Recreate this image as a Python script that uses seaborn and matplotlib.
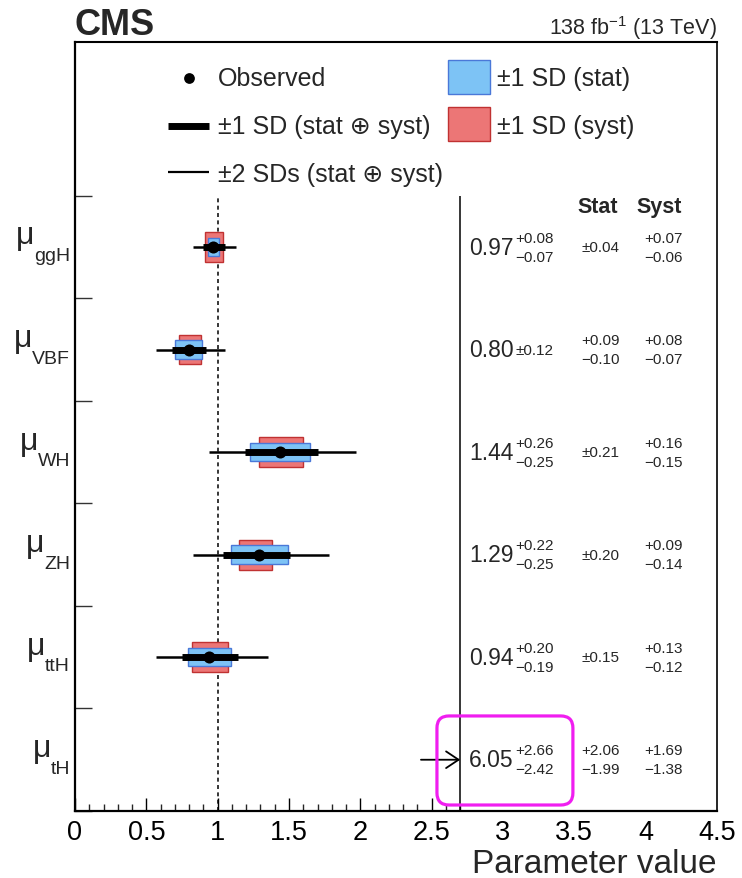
import numpy as np
import pandas as pd
import matplotlib
matplotlib.use("Agg")
import matplotlib.pyplot as plt
import seaborn as sns
from matplotlib.patches import Rectangle, FancyBboxPatch
from matplotlib.ticker import FixedLocator

# ---- measured signal strengths -------------------------------------------
processes = ["ggH", "VBF", "WH", "ZH", "ttH", "tH"]
mu_best   = [0.97, 0.80, 1.44, 1.29, 0.94, 6.05]
tot_up    = [0.08, 0.12, 0.26, 0.22, 0.20, 2.66]
tot_dn    = [0.07, 0.12, 0.25, 0.25, 0.19, 2.42]
stat_up   = [0.04, 0.09, 0.21, 0.20, 0.15, 2.06]
stat_dn   = [0.04, 0.10, 0.21, 0.20, 0.15, 1.99]
syst_up   = [0.07, 0.08, 0.16, 0.09, 0.13, 1.69]
syst_dn   = [0.06, 0.07, 0.15, 0.14, 0.12, 1.38]
two_sd_up = [0.16, 0.25, 0.53, 0.49, 0.41, np.nan]
two_sd_dn = [0.14, 0.23, 0.50, 0.46, 0.37, np.nan]

x_tick_vals   = [0, 0.5, 1, 1.5, 2, 2.5, 3, 3.5, 4, 4.5]
x_tick_labels = ["0", "0.5", "1", "1.5", "2", "2.5", "3", "3.5", "4", "4.5"]

X_CUT = 2.7          # plotting region ends here, text table to the right
BLUE, BLUE_EDGE = "#7dc3f5", "#4a78d8"
RED, RED_EDGE = "#ec7676", "#c03232"
FONTS = ["Liberation Sans", "DejaVu Sans"]

sns.set_theme(style="ticks")
plt.rcParams["font.family"] = FONTS
plt.rcParams["mathtext.fontset"] = "custom"
plt.rcParams["mathtext.rm"] = "Liberation Sans"
plt.rcParams["mathtext.it"] = "Liberation Sans:italic"
plt.rcParams["mathtext.bf"] = "Liberation Sans:bold"

n = len(processes)
df = pd.DataFrame({
    "proc": processes, "mu": mu_best,
    "tot_up": tot_up, "tot_dn": tot_dn,
    "stat_up": stat_up, "stat_dn": stat_dn,
    "syst_up": syst_up, "syst_dn": syst_dn,
    "two_up": two_sd_up, "two_dn": two_sd_dn,
})
df["y"] = (n - 0.5) - np.arange(n)
inside = df[df["mu"] <= X_CUT]
outside = df[df["mu"] > X_CUT]

fig = plt.figure(figsize=(7.42, 8.79), dpi=100)
ax = fig.add_axes([75 / 742, 1 - 812 / 879, (717 - 75) / 742, (812 - 43) / 879])
ax.set_xlim(0, 4.5)
ax.set_ylim(0, n + 1.5)

# reference lines
ax.vlines(1.0, 0, n, colors="black", linestyles=(0, (2.6, 2.2)), lw=1.1, zorder=1)
ax.vlines(X_CUT, 0, n, colors="black", lw=1.1, zorder=1)

# syst (red, taller) and stat (blue, shorter) boxes
ax.barh(inside["y"], inside["syst_up"] + inside["syst_dn"], left=inside["mu"] - inside["syst_dn"],
        height=0.29, color=RED, edgecolor=RED_EDGE, linewidth=1.0, zorder=2)
ax.barh(inside["y"], inside["stat_up"] + inside["stat_dn"], left=inside["mu"] - inside["stat_dn"],
        height=0.18, color=BLUE, edgecolor=BLUE_EDGE, linewidth=1.0, zorder=3)

# +-2 SD and +-1 SD total intervals
ax.hlines(inside["y"], inside["mu"] - inside["two_dn"], inside["mu"] + inside["two_up"],
          colors="black", lw=1.8, zorder=4)
lc = ax.hlines(inside["y"], inside["mu"] - inside["tot_dn"], inside["mu"] + inside["tot_up"],
               colors="black", lw=5, zorder=5)
lc.set_capstyle("butt")

sns.scatterplot(data=inside, x="mu", y="y", color="black", s=75, linewidth=0,
                zorder=6, ax=ax, legend=False)

# off-scale results: arrow pointing to the table
for _, r in outside.iterrows():
    ax.annotate("", xy=(X_CUT, r["y"]), xytext=(X_CUT - 0.275, r["y"]),
                arrowprops=dict(arrowstyle="->,head_length=0.6,head_width=0.4",
                                lw=1.3, color="black", mutation_scale=15,
                                shrinkA=0, shrinkB=0), zorder=6)

# ---- axes styling ----------------------------------------------------------
ax.set_xlabel("")
ax.set_ylabel("")
ax.set_xticks(x_tick_vals)
ax.set_xticklabels(x_tick_labels, fontsize=19.5)
minor = [v / 10 for v in range(0, 28) if v % 5 != 0]
ax.xaxis.set_minor_locator(FixedLocator(minor))
ax.tick_params(axis="x", which="major", direction="in", length=9.5, width=1.0,
               pad=6, top=False, bottom=True, colors="black")
ax.tick_params(axis="x", which="minor", direction="in", length=5, width=1.0,
               top=False, bottom=True)
for tk in ax.xaxis.get_major_ticks():
    if tk.get_loc() > X_CUT:
        tk.tick1line.set_visible(False)

ax.set_yticks(range(0, n + 1))
ax.set_yticklabels([])
ax.tick_params(axis="y", which="major", direction="in", length=12, width=1.0,
               left=True, right=False, color="#333333")
for side in ["left", "bottom", "top", "right"]:
    ax.spines[side].set_visible(True)
    ax.spines[side].set_color("black")
ax.spines["left"].set_linewidth(1.6)
ax.spines["bottom"].set_linewidth(1.6)
ax.spines["top"].set_linewidth(1.5)
ax.spines["right"].set_linewidth(1.2)

# ---- value table -----------------------------------------------------------
def fmt_unc(up, dn, x, y, size):
    if abs(up - dn) < 1e-9:
        ax.text(x, y, f"\u00b1{up:.2f}", ha="right", va="center", fontsize=size)
    else:
        ax.text(x, y + 0.093, f"+{up:.2f}", ha="right", va="center", fontsize=size)
        ax.text(x, y - 0.093, f"\u2212{dn:.2f}", ha="right", va="center", fontsize=size)

ax.text(3.666, 5.90, "Stat", ha="center", va="center", fontsize=15.5, fontweight="bold")
ax.text(4.093, 5.90, "Syst", ha="center", va="center", fontsize=15.5, fontweight="bold")
for _, r in df.iterrows():
    y = r["y"]
    ax.text(3.077, y, f"{r['mu']:.2f}", ha="right", va="center", fontsize=16.5)
    fmt_unc(r["tot_up"], r["tot_dn"], 3.357, y, 11)
    fmt_unc(r["stat_up"], r["stat_dn"], 3.82, y, 11)
    fmt_unc(r["syst_up"], r["syst_dn"], 4.262, y, 11)

# highlight of the tH result
ax.add_patch(FancyBboxPatch((2.537, 0.0585), 3.49 - 2.537, 0.927 - 0.0585,
                            boxstyle="round,pad=0,rounding_size=0.085",
                            mutation_aspect=142.67 / 102.5, facecolor="none",
                            edgecolor="#f01ef0", linewidth=2.3, zorder=7, clip_on=False))

# ---- legend ----------------------------------------------------------------
leg_y = [7.151, 6.683, 6.215]
ax.scatter([0.799], [leg_y[0]], s=60, color="black", linewidth=0, zorder=6)
ax.plot([0.652, 0.939], [leg_y[1], leg_y[1]], color="black", lw=5, solid_capstyle="butt")
ax.plot([0.652, 0.939], [leg_y[2] + 0.02, leg_y[2] + 0.02], color="black", lw=1.6, solid_capstyle="butt")
ax.text(1.002, leg_y[0], "Observed", fontsize=18, va="center", ha="left")
ax.text(1.002, leg_y[1], "\u00b11 SD (stat \u2295 syst)", fontsize=18, va="center", ha="left")
ax.text(1.002, leg_y[2], "\u00b12 SDs (stat \u2295 syst)", fontsize=18, va="center", ha="left")
ax.add_patch(Rectangle((2.614, 6.995), 0.295, 0.332, facecolor=BLUE, edgecolor=BLUE_EDGE, lw=1.0))
ax.add_patch(Rectangle((2.614, 6.537), 0.295, 0.331, facecolor=RED, edgecolor=RED_EDGE, lw=1.0))
ax.text(2.958, leg_y[0], "\u00b11 SD (stat)", fontsize=18, va="center", ha="left")
ax.text(2.958, leg_y[1], "\u00b11 SD (syst)", fontsize=18, va="center", ha="left")

# ---- parameter labels ------------------------------------------------------
fig.canvas.draw()
renderer = fig.canvas.get_renderer()
inv = ax.transData.inverted()
for _, r in df.iterrows():
    y = r["y"]
    sub = ax.text(-0.035, y - 0.127, r["proc"], fontsize=14, ha="right", va="baseline", clip_on=False)
    bb = sub.get_window_extent(renderer)
    left = inv.transform((bb.x0, bb.y0))[0]
    ax.text(left + 0.005, y + 0.035, "\u03bc", fontsize=23, ha="right", va="baseline", clip_on=False)

# ---- header / axis title -----------------------------------------------------
fig.text(75 / 742, 1 - 35 / 879, "CMS", fontsize=26, fontweight="bold", ha="left", va="baseline")
fig.text(717 / 742, 1 - 35 / 879, r"138 fb$^{-1}$ (13 TeV)", fontsize=15.5, ha="right", va="baseline")
fig.text(716 / 742, 1 - 873 / 879, "Parameter value", fontsize=24, ha="right", va="baseline")

fig.savefig("out.png", dpi=100)
